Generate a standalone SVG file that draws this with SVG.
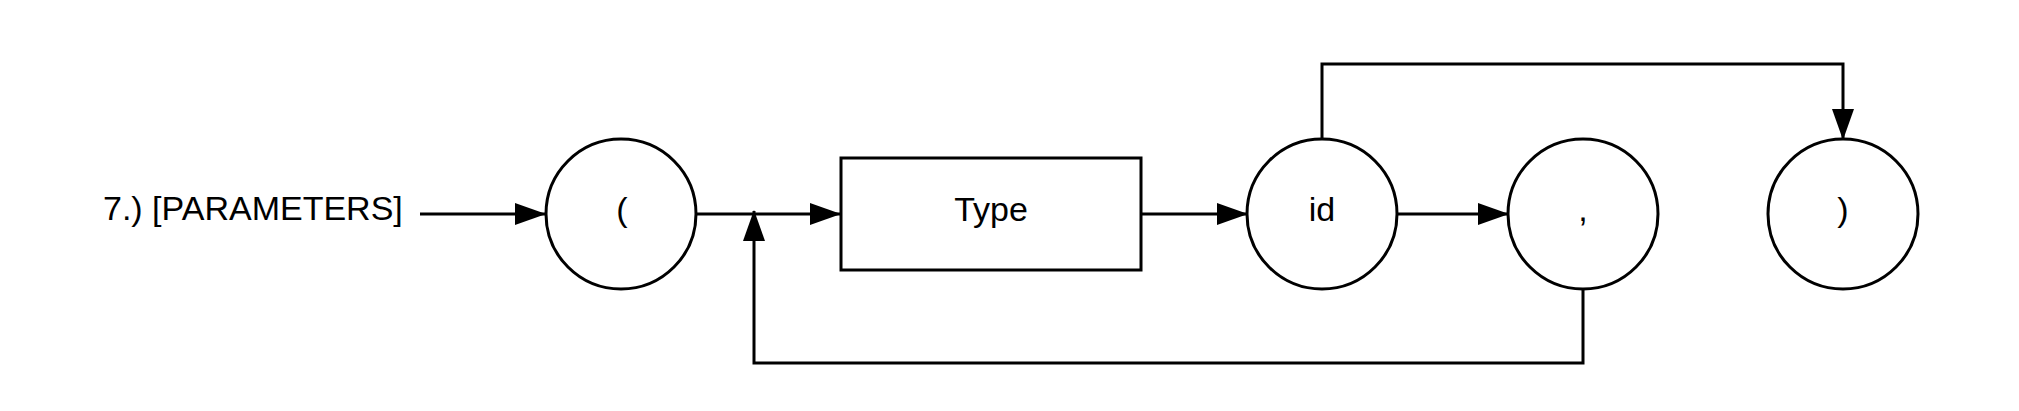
<svg xmlns="http://www.w3.org/2000/svg" width="2019" height="411" viewBox="0 0 2019 411">
  <style>
    .node { fill: #ffffff; stroke: #000000; stroke-width: 3; }
    .lbl { font-family: "Liberation Sans", Arial, sans-serif; font-size: 34px; fill: #000000; text-anchor: middle; }
    .title { font-family: "Liberation Sans", Arial, sans-serif; font-size: 34px; fill: #000000; }
    .edge { fill: none; stroke: #000000; stroke-width: 3; }
  </style>
  <defs>
    <marker id="arrow" viewBox="0 0 31 22" refX="30" refY="11" markerWidth="31" markerHeight="22" markerUnits="userSpaceOnUse" orient="auto">
      <path d="M0,0 L31,11 L0,22 Z" fill="#000000"/>
    </marker>
  </defs>
  <rect width="2019" height="411" fill="#ffffff"/>

  <g id="title">
    <text class="title" x="103" y="220">7.) [PARAMETERS]</text>
  </g>

  <g id="connectors">
    <path class="edge" d="M420,214 H545" marker-end="url(#arrow)"/>
    <path class="edge" d="M697,214 H840" marker-end="url(#arrow)"/>
    <path class="edge" d="M1141,214 H1247" marker-end="url(#arrow)"/>
    <path class="edge" d="M1397,214 H1508" marker-end="url(#arrow)"/>
    <path class="edge" d="M1583,289 V363 H754 V211" marker-end="url(#arrow)"/>
    <path class="edge" d="M1322,139 V64 H1843 V139" marker-end="url(#arrow)"/>
  </g>

  <g id="node-open">
    <circle class="node" cx="621" cy="214" r="75"/>
    <text class="lbl" x="622" y="221">(</text>
  </g>
  <g id="node-type">
    <rect class="node" x="841" y="158" width="300" height="112"/>
    <text class="lbl" x="991" y="221">Type</text>
  </g>
  <g id="node-id">
    <circle class="node" cx="1322" cy="214" r="75"/>
    <text class="lbl" x="1322" y="221">id</text>
  </g>
  <g id="node-comma">
    <circle class="node" cx="1583" cy="214" r="75"/>
    <text class="lbl" x="1583" y="221">,</text>
  </g>
  <g id="node-close">
    <circle class="node" cx="1843" cy="214" r="75"/>
    <text class="lbl" x="1843" y="221">)</text>
  </g>
</svg>
